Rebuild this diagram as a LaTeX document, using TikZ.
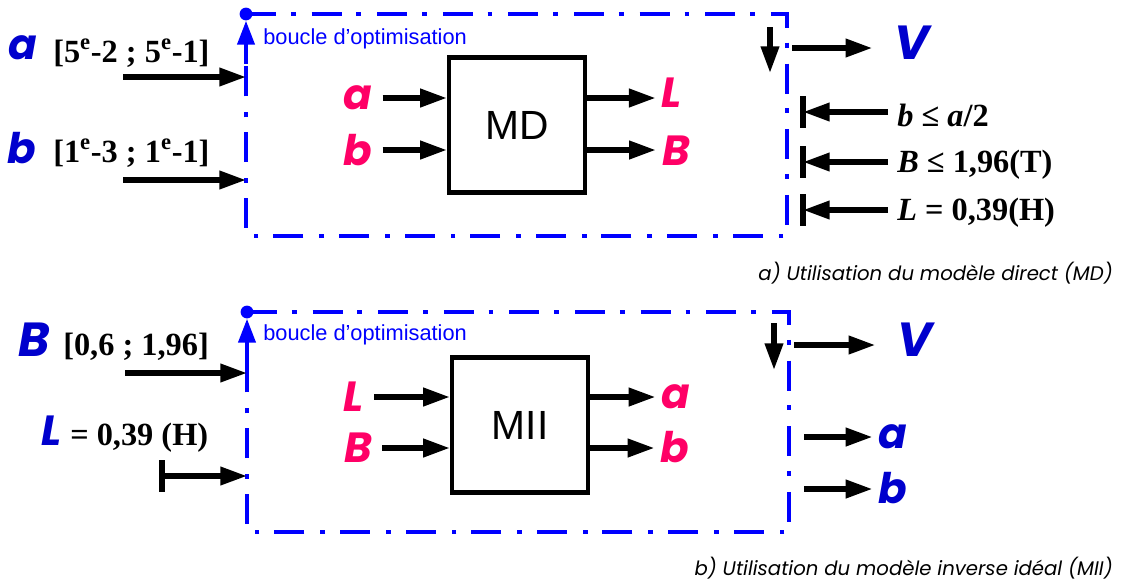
\documentclass[tikz,border=0pt]{standalone}
\usepackage{fontspec}
\setmainfont{Liberation Serif}
\newfontfamily\comicfont{Poppins}
\newfontfamily\arialfont{Liberation Sans}
\usetikzlibrary{arrows.meta}

\definecolor{loopblue}{RGB}{0,0,255}
\definecolor{varblue}{RGB}{0,0,205}
\definecolor{varpink}{RGB}{255,0,102}

\tikzset{
  arr/.style={line width=3.8pt, -{Triangle[length=19pt,width=12.5pt]}},
  barline/.style={line width=3.8pt},
  loopline/.style={draw=loopblue, line width=3pt, dash pattern=on 0.75cm off 0.37cm on 0.12cm off 0.4cm},
  looparr/.style={draw=loopblue, line width=3pt, -{Triangle[length=17pt,width=12pt]}},
  loopdot/.style={circle, fill=loopblue, inner sep=0pt, minimum size=0.32cm},
  modelbox/.style={draw, line width=3pt, minimum width=3.4cm, minimum height=3.375cm,
    font=\arialfont\fontsize{29}{29}\selectfont},
  pinkvar/.style={inner sep=0pt, text=varpink, font=\comicfont\bfseries\itshape\fontsize{30}{30}\selectfont},
  bluevar/.style={inner sep=0pt, text=varblue, font=\comicfont\bfseries\itshape\fontsize{30}{30}\selectfont},
  bigvar/.style={bluevar, font=\comicfont\bfseries\itshape\fontsize{34}{34}\selectfont},
  rangetext/.style={inner sep=0pt, anchor=west, font=\bfseries\fontsize{23}{23}\selectfont},
  looptext/.style={inner sep=0pt, anchor=west, text=loopblue, font=\arialfont\fontsize{15.5}{15.5}\selectfont},
  legend/.style={inner sep=0pt, anchor=east, font=\comicfont\itshape\fontsize{14}{14}\selectfont},
}

\begin{document}
\begin{tikzpicture}[x=0.025cm, y=-0.025cm]
    \useasboundingbox (0,0) rectangle (1122,581);

    % ---- a) direct model ----
    \node[loopdot] (dotA) at (246,14) {};
    \coordinate (loopEndA) at (246,64);
    \draw[loopline] (dotA.center) -| (787,236) -| (loopEndA);
    \draw[looparr] (loopEndA) -- (dotA.south);
    \node[looptext] (loopA) at (263,39) {boucle d’optimisation};

    \node[modelbox] (md) at (517,125) {MD};

    \node[pinkvar] (mdInA) at (358,98) {a};
    \node[pinkvar] (mdInB) at (358,150) {b};
    \node[pinkvar] (mdOutL) at (672,93) {L};
    \node[pinkvar] (mdOutB) at (676,151) {B};
    \draw[arr, shorten <=0.25cm] (mdInA.east) -- (mdInA -| md.west);
    \draw[arr, shorten <=0.25cm] (mdInB.east) -- (mdInB -| md.west);
    \draw[arr] (md.east |- mdInA) -- ([xshift=-0.15cm]mdOutL.west |- mdInA);
    \draw[arr] (md.east |- mdInB) -- ([xshift=-0.15cm]mdOutB.west |- mdInB);

    % search ranges
    \node[bluevar] (varA) at (23,48) {a};
    \node[rangetext] (rangeA) at (53,53) {[5\textsuperscript{e}-2 ; 5\textsuperscript{e}-1]};
    \node[bluevar] (varB) at (22,148) {b};
    \node[rangetext] (rangeB) at (53,153) {[1\textsuperscript{e}-3 ; 1\textsuperscript{e}-1]};
    \coordinate (inA) at (123,77);
    \coordinate (inB) at (123,180);
    \draw[arr] (inA) -- (inA -| dotA);
    \draw[arr] (inB) -- (inB -| dotA);

    % objective and constraints
    \coordinate (backA) at (770,27);
    \draw[arr] (backA) -- ++(0,46);
    \node[bigvar] (outVA) at (912,43) {V};
    \coordinate (vA) at (792,48);
    \draw[arr] (vA) -- ([xshift=-0.55cm]outVA.west |- vA);
    \foreach \y/\txt [count=\i] in {112/{\textit{b} ≤ \textit{a}/2}, 162/{\textit{B} ≤ 1,96(T)}, 210/{\textit{L} = 0,39(H)}}{
        \node[rangetext] (consA\i) at (897,\y+3) {\txt};
        \coordinate (barA\i) at (803,\y);
        \draw[barline] (barA\i) ++(0,-16) -- ++(0,32);
        \draw[arr, shorten <=0.22cm] (consA\i.west |- barA\i) -- (barA\i);
    }
    \node[legend] (capA) at (1113,273) {a) Utilisation du modèle direct (MD)};

    % ---- b) ideal inverse model ----
    \node[loopdot] (dotB) at (247,312) {};
    \coordinate (loopEndB) at (247,362);
    \draw[loopline] (dotB.center) -| (789,532) -| (loopEndB);
    \draw[looparr] (loopEndB) -- (dotB.south);
    \node[looptext] (loopB) at (263,335) {boucle d’optimisation};

    \node[modelbox] (mii) at (520,425) {MII};

    \node[pinkvar] (miiInL) at (354,397) {L};
    \node[pinkvar] (miiInB) at (358,448) {B};
    \node[pinkvar] (miiOutA) at (676,397) {a};
    \node[pinkvar] (miiOutB) at (675,447) {b};
    \draw[arr, shorten <=0.25cm] (miiInL.east) -- (miiInL -| mii.west);
    \draw[arr, shorten <=0.25cm] (miiInB.east) -- (miiInB -| mii.west);
    \draw[arr] (mii.east |- miiInL) -- ([xshift=-0.15cm]miiOutA.west |- miiInL);
    \draw[arr] (mii.east |- miiInB) -- ([xshift=-0.15cm]miiOutB.west |- miiInB);

    % search range and fixed value
    \node[bigvar] (varBB) at (34,340) {B};
    \node[rangetext] (rangeBB) at (63,347) {[0,6 ; 1,96]};
    \coordinate (inBB) at (125,373);
    \draw[arr] (inBB) -- (inBB -| dotB);
    \node[bluevar] (varL) at (52,431) {L};
    \node[rangetext] (fixL) at (70,438) {= 0,39 (H)};
    \coordinate (barL) at (162,476);
    \draw[barline] (barL) ++(0,-16) -- ++(0,32);
    \draw[arr] (barL) -- (barL -| dotB);

    % objective and outputs
    \coordinate (backB) at (774,323);
    \draw[arr] (backB) -- ++(0,47);
    \node[bigvar] (outVB) at (915,340) {V};
    \coordinate (vB) at (794,345);
    \draw[arr] (vB) -- ([xshift=-0.55cm]outVB.west |- vB);
    \node[bluevar] (outA) at (893,437) {a};
    \node[bluevar] (outB) at (893,488) {b};
    \coordinate (oA) at (804,437);
    \coordinate (oB) at (804,489);
    \draw[arr] (oA) -- ([xshift=-0.15cm]outA.west |- oA);
    \draw[arr] (oB) -- ([xshift=-0.15cm]outB.west |- oB);
    \node[legend] (capB) at (1113,568) {b) Utilisation du modèle inverse idéal (MII)};
\end{tikzpicture}
\end{document}
